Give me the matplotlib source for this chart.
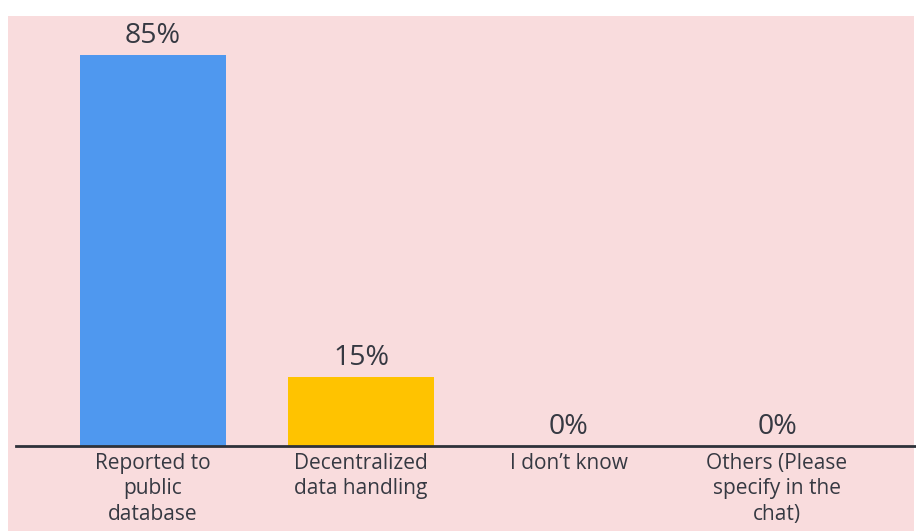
import matplotlib.pyplot as plt
from matplotlib.patches import Rectangle

# survey answers
categories = ["Reported to\npublic\ndatabase", "Decentralized\ndata handling",
              "I don\u2019t know", "Others (Please\nspecify in the\nchat)"]
shares = [85, 15, 0, 0]
bar_colors = ["#4F98EF", "#FFC300", "#4F98EF", "#4F98EF"]

text_color = "#363942"
bg_color = "#F9DCDD"
plt.rcParams['font.family'] = ['Open Sans', 'DejaVu Sans']

W, H = 916, 531
fig = plt.figure(figsize=(W / 100, H / 100), dpi=100)
fig.patch.set_facecolor("white")
fig.patches.append(Rectangle((8 / W, 0), (914 - 8) / W, (H - 16) / H,
                             transform=fig.transFigure, facecolor=bg_color,
                             edgecolor="none", zorder=-5))

ax = fig.add_axes([16 / W, (H - 446) / H, 1 - 16 / W, (446 - 55) / H])
ax.set_facecolor("none")
ax.set_zorder(2)

x = list(range(len(categories)))
bars = ax.bar(x, shares, width=0.70, color=bar_colors, zorder=2)
ax.set_xlim(-(153 - 16) / 208, (916 - 153) / 208)
ax.set_ylim(0, 85)

for rect, v in zip(bars, shares):
    ax.annotate(f"{v}%", (rect.get_x() + rect.get_width() / 2, v),
                xytext=(0, 3.5), textcoords="offset points",
                ha="center", va="bottom", fontsize=20.5,
                color=text_color, annotation_clip=False)

for side in ["left", "right", "top"]:
    ax.spines[side].set_visible(False)
ax.spines["bottom"].set_color("#2E323A")
ax.spines["bottom"].set_linewidth(2)
ax.set_yticks([])
ax.set_xticks(x)
ax.set_xticklabels(categories, fontsize=15, color=text_color,
                   linespacing=1.28)
ax.tick_params(axis="x", length=0, pad=5)

fig.savefig("out.png", dpi=100, facecolor=fig.get_facecolor())
